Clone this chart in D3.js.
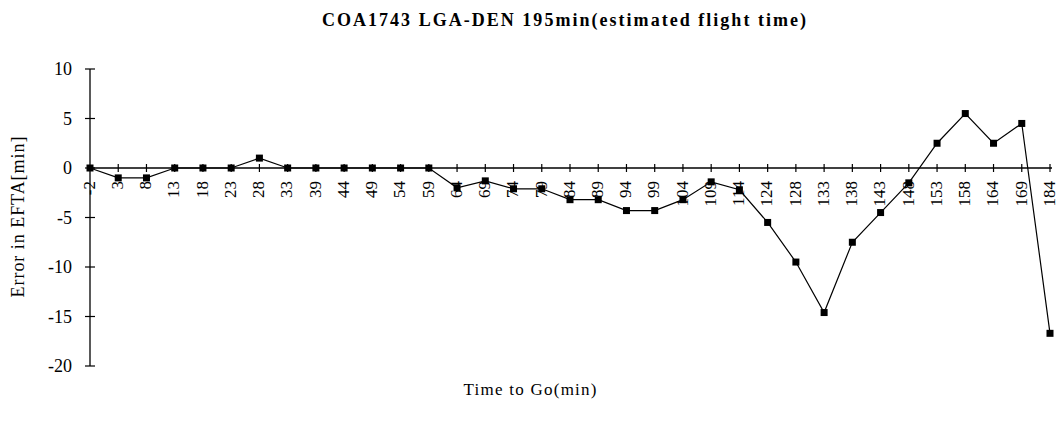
<!DOCTYPE html>
<html>
<head>
<meta charset="utf-8">
<script src="https://cdn.jsdelivr.net/npm/d3@7/dist/d3.min.js"></script>
<style>
  html, body { margin: 0; padding: 0; background: #fff; }
  svg { display: block; }
  text { font-family: "Liberation Serif", "DejaVu Serif", serif; fill: #000; }
</style>
</head>
<body>
<script>
// ---- data ----
const categories = ["-2","3","8","13","18","23","28","33","39","44","49","54","59","64","69","74","79","84","89","94","99","104","109","114","124","128","133","138","143","148","153","158","164","169","184"];
const errorValues = [0,-1,-1,0,0,0,1,0,0,0,0,0,0,-2,-1.3,-2.1,-2.1,-3.2,-3.2,-4.3,-4.3,-3.2,-1.4,-2.2,-5.5,-9.5,-14.6,-7.5,-4.5,-1.5,2.5,5.5,2.5,4.5,-16.7];
const yTicks = [10, 5, 0, -5, -10, -15, -20];
const titleText = "COA1743 LGA-DEN 195min(estimated flight time)";
const xTitle = "Time to Go(min)";
const yTitle = "Error in EFTA[min]";

const W = 1059, H = 429;
const svg = d3.select("body").append("svg").attr("width", W).attr("height", H);

const x = d3.scalePoint().domain(categories).range([90, 1050]);
const y = d3.scaleLinear().domain([-20, 10]).range([366, 69]);

// title
svg.append("text")
  .attr("x", 564).attr("y", 26)
  .attr("text-anchor", "middle")
  .attr("font-size", 18).attr("font-weight", "bold")
  .attr("textLength", 484).attr("lengthAdjust", "spacing")
  .text(titleText);

// y axis
const yAxisG = svg.append("g").attr("transform", `translate(${x(categories[0])},0)`);
yAxisG.append("line").attr("x1", 0).attr("x2", 0).attr("y1", y(10)).attr("y2", y(-20))
  .attr("stroke", "#000").attr("stroke-width", 1.3);
yAxisG.selectAll("line.tick").data(yTicks).join("line").attr("class", "tick")
  .attr("x1", -5).attr("x2", 5).attr("y1", d => y(d)).attr("y2", d => y(d))
  .attr("stroke", "#000").attr("stroke-width", 1.2);
yAxisG.selectAll("text").data(yTicks).join("text")
  .attr("x", -18).attr("y", d => y(d)).attr("dy", "0.35em")
  .attr("text-anchor", "end").attr("font-size", 18)
  .text(d => d < 0 ? "-" + Math.abs(d) : String(d));

// x axis at y = 0
const xAxisG = svg.append("g").attr("transform", `translate(0,${y(0)})`);
xAxisG.append("line").attr("x1", x(categories[0])).attr("x2", x(categories[categories.length - 1]) + 2)
  .attr("y1", 0).attr("y2", 0).attr("stroke", "#000").attr("stroke-width", 1.3);
xAxisG.selectAll("line.tick").data(categories.slice(1)).join("line").attr("class", "tick")
  .attr("x1", d => x(d)).attr("x2", d => x(d)).attr("y1", -4).attr("y2", 4)
  .attr("stroke", "#000").attr("stroke-width", 1.2);
xAxisG.selectAll("text").data(categories).join("text")
  .attr("transform", d => `translate(${x(d)},13) rotate(-90)`)
  .attr("dy", "0.28em")
  .attr("text-anchor", "end").attr("font-size", 17)
  .text(d => d);

// line
const line = d3.line().x((d, i) => x(categories[i])).y(d => y(d));
svg.append("path").datum(errorValues)
  .attr("d", line).attr("fill", "none").attr("stroke", "#000").attr("stroke-width", 1.2);

// markers
svg.selectAll("rect.pt").data(errorValues).join("rect").attr("class", "pt")
  .attr("x", (d, i) => x(categories[i]) - 3.5).attr("y", d => y(d) - 3.5)
  .attr("width", 7).attr("height", 7).attr("fill", "#000");

// axis titles
svg.append("text")
  .attr("x", 530).attr("y", 395)
  .attr("text-anchor", "middle").attr("font-size", 17)
  .attr("textLength", 133).attr("lengthAdjust", "spacing")
  .text(xTitle);

svg.append("text")
  .attr("transform", "translate(24,217) rotate(-90)")
  .attr("text-anchor", "middle").attr("font-size", 18)
  .attr("textLength", 161).attr("lengthAdjust", "spacing")
  .text(yTitle);
</script>
</body>
</html>
